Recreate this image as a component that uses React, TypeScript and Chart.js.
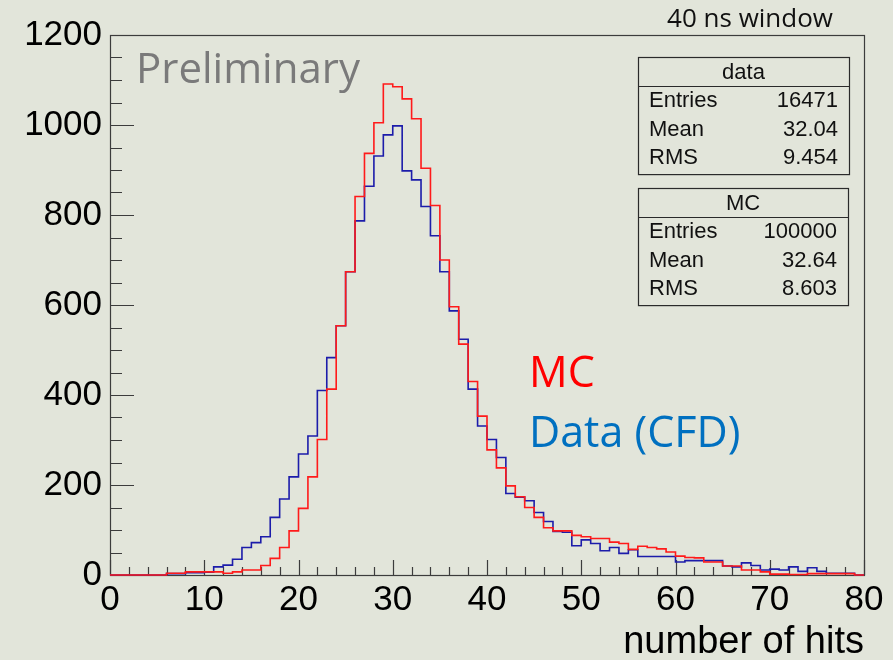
import { useEffect, useRef } from "react";
import { Chart, registerables } from "chart.js";

Chart.register(...registerables);

// Histogram bins: 80 bins of width 1 from 0 to 80 hits
const binLow = 0;
const binHigh = 80;

// Measured data (CFD), counts per bin
const dataCounts = [
  0, 0, 0, 0, 0, 0, 3, 3, 5, 5,
  6, 18, 22, 35, 61, 72, 85, 128, 169, 218,
  269, 309, 410, 483, 554, 674, 787, 864, 931, 978,
  998, 898, 878, 819, 754, 674, 587, 524, 413, 331,
  301, 261, 181, 173, 165, 139, 119, 97, 95, 65,
  78, 70, 54, 61, 48, 56, 41, 41, 41, 41,
  29, 32, 32, 32, 32, 20, 18, 27, 21, 11,
  13, 11, 18, 8, 16, 8, 4, 4, 4, 0,
];

// Simulation (MC), counts per bin
const mcCounts = [
  0, 0, 0, 0, 0, 0, 4, 4, 7, 7,
  7, 7, 4, 7, 11, 11, 21, 37, 61, 98,
  148, 218, 301, 413, 554, 674, 841, 937, 1005, 1091,
  1085, 1058, 1014, 904, 821, 700, 596, 513, 430, 353,
  278, 238, 198, 174, 150, 128, 105, 98, 98, 88,
  85, 81, 81, 73, 70, 57, 64, 61, 58, 51,
  42, 39, 38, 29, 29, 20, 20, 11, 11, 7,
  2, 2, 1, 1, 3, 3, 3, 3, 3, 0,
];

const yMax = 1200;
const xMajorStep = 10;
const xMinorStep = 2;
const yMajorStep = 200;
const yMinorStep = 50;

const statsDataTitle = "data";
const statsDataRows: [string, string][] = [
  ["Entries", "16471"],
  ["Mean", "32.04"],
  ["RMS", "9.454"],
];
const statsMcTitle = "MC";
const statsMcRows: [string, string][] = [
  ["Entries", "100000"],
  ["Mean", "32.64"],
  ["RMS", "8.603"],
];

const xTitle = "number of hits";
const windowLabel = "40 ns window";
const prelimLabel = "Preliminary";
const mcLabel = "MC";
const dataLabel = "Data (CFD)";

const BG = "rgb(226,229,218)";
const ROOT_FONT = "'Liberation Sans', Arial, sans-serif";
const SLIDE_FONT = "'Open Sans', 'Noto Sans', sans-serif";

// Turn per-bin counts into step points on bin edges
function toSteps(counts: number[]) {
  const pts = counts.map((v, i) => ({ x: binLow + i, y: v }));
  pts.push({ x: binHigh, y: counts[counts.length - 1] });
  return pts;
}

function drawStatsBox(
  ctx: CanvasRenderingContext2D,
  left: number,
  right: number,
  top: number,
  title: string,
  rows: [string, string][]
) {
  const headerH = 29;
  const rowH = 28.7;
  const bottom = top + headerH + rowH * rows.length + 2;
  ctx.strokeStyle = "#2a2a2a";
  ctx.lineWidth = 1.2;
  ctx.strokeRect(left + 0.5, top + 0.5, right - left, bottom - top);
  ctx.beginPath();
  ctx.moveTo(left, top + headerH + 0.5);
  ctx.lineTo(right, top + headerH + 0.5);
  ctx.stroke();
  ctx.fillStyle = "#111";
  ctx.font = `22px ${ROOT_FONT}`;
  ctx.textBaseline = "alphabetic";
  ctx.textAlign = "center";
  ctx.fillText(title, (left + right) / 2, top + 22);
  rows.forEach(([k, v], i) => {
    const base = top + headerH + 21 + i * rowH;
    ctx.textAlign = "left";
    ctx.fillText(k, left + 11, base);
    ctx.textAlign = "right";
    ctx.fillText(v, right - 11, base);
  });
}

const rootDecor = {
  id: "rootDecor",
  beforeDraw(chart: any) {
    const { ctx, width, height } = chart;
    ctx.save();
    ctx.fillStyle = BG;
    ctx.fillRect(0, 0, width, height);
    ctx.restore();
  },
  beforeDatasetsDraw(chart: any) {
    const { ctx, chartArea: a, scales } = chart;
    const x = scales.x;
    const y = scales.y;
    ctx.save();
    ctx.strokeStyle = "#3c3c3c";
    ctx.lineWidth = 1.2;
    ctx.strokeRect(a.left + 0.5, a.top + 0.5, a.right - a.left, a.bottom - a.top);
    ctx.beginPath();
    for (let v = 0; v <= yMax; v += yMinorStep) {
      const py = Math.round(y.getPixelForValue(v)) + 0.5;
      const len = v % yMajorStep === 0 ? 24 : 12;
      ctx.moveTo(a.left, py);
      ctx.lineTo(a.left + len, py);
    }
    for (let v = binLow; v <= binHigh; v += xMinorStep) {
      const px = Math.round(x.getPixelForValue(v)) + 0.5;
      const len = v % xMajorStep === 0 ? 15 : 8;
      ctx.moveTo(px, a.bottom);
      ctx.lineTo(px, a.bottom - len);
    }
    ctx.stroke();
    ctx.restore();
  },
  afterDraw(chart: any) {
    const { ctx, chartArea: a } = chart;
    ctx.save();
    // axis title
    ctx.fillStyle = "#000";
    ctx.font = `38px ${ROOT_FONT}`;
    ctx.textAlign = "right";
    ctx.textBaseline = "alphabetic";
    ctx.fillText(xTitle, a.right, 653);

    // statistics boxes
    drawStatsBox(ctx, 638, 849, 57, statsDataTitle, statsDataRows);
    drawStatsBox(ctx, 638, 848, 188, statsMcTitle, statsMcRows);

    // slide annotations
    ctx.textAlign = "right";
    ctx.fillStyle = "#111";
    ctx.font = `26px ${SLIDE_FONT}`;
    ctx.fillText(windowLabel, 833, 27);

    ctx.textAlign = "left";
    ctx.fillStyle = "#7a7a7a";
    ctx.font = `42px ${SLIDE_FONT}`;
    ctx.fillText(prelimLabel, 136, 83);

    ctx.font = `43px ${SLIDE_FONT}`;
    ctx.fillStyle = "#ff0000";
    ctx.fillText(mcLabel, 529, 387);
    ctx.fillStyle = "#0070c0";
    ctx.fillText(dataLabel, 529, 447);
    ctx.restore();
  },
};

export default function App() {
  const canvasRef = useRef<HTMLCanvasElement | null>(null);

  useEffect(() => {
    document.body.style.margin = "0";
    document.body.style.background = BG;
    const canvas = canvasRef.current;
    if (!canvas) return;
    const chart = new Chart(canvas, {
      type: "line",
      data: {
        datasets: [
          {
            label: mcLabel,
            data: toSteps(mcCounts),
            stepped: "before",
            borderColor: "#ff1a1a",
            borderWidth: 1.6,
            pointRadius: 0,
            fill: false,
            clip: 4,
          },
          {
            label: "data",
            data: toSteps(dataCounts),
            stepped: "before",
            borderColor: "#1c1caa",
            borderWidth: 1.6,
            pointRadius: 0,
            fill: false,
            clip: 4,
          },
        ],
      },
      options: {
        animation: false,
        responsive: false,
        devicePixelRatio: 1,
        layout: { autoPadding: false, padding: { top: 35, right: 29, left: 0, bottom: 0 } },
        plugins: { legend: { display: false }, tooltip: { enabled: false } },
        scales: {
          x: {
            type: "linear",
            min: binLow,
            max: binHigh,
            grid: { display: false, drawTicks: false },
            border: { display: false },
            ticks: {
              stepSize: xMajorStep,
              autoSkip: false,
              maxRotation: 0,
              color: "#000",
              padding: 4,
              font: { family: ROOT_FONT, size: 35 },
              callback: (v: any) => String(v),
            },
            afterFit: (s: any) => {
              s.height = 85;
            },
          },
          y: {
            min: 0,
            max: yMax,
            grid: { display: false, drawTicks: false },
            border: { display: false },
            ticks: {
              stepSize: yMajorStep,
              color: "#000",
              padding: 8,
              font: { family: ROOT_FONT, size: 35 },
              callback: (v: any) => String(v),
            },
            afterFit: (s: any) => {
              s.width = 110;
            },
          },
        },
      },
      plugins: [rootDecor],
    });
    return () => chart.destroy();
  }, []);

  return (
    <div style={{ width: 893, height: 660, background: BG }}>
      <canvas ref={canvasRef} width={893} height={660} style={{ display: "block" }} />
    </div>
  );
}
